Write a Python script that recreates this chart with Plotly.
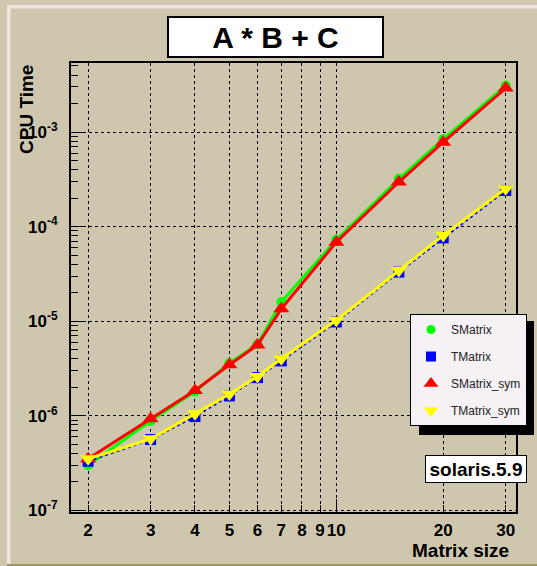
import plotly.graph_objects as go

# ---------------- data ----------------
sizes = [2, 3, 4, 5, 6, 7, 10, 15, 20, 30]
smatrix = [3.0e-7, 8.8e-7, 1.8e-6, 3.6e-6, 5.7e-6, 1.59e-5, 7.26e-5, 3.2e-4, 8.4e-4, 3.1e-3]
tmatrix = [3.3e-7, 5.6e-7, 9.8e-7, 1.62e-6, 2.53e-6, 3.8e-6, 9.8e-6, 3.3e-5, 7.6e-5, 2.41e-4]
smatrix_sym = [3.5e-7, 9.3e-7, 1.85e-6, 3.46e-6, 5.6e-6, 1.35e-5, 6.85e-5, 2.96e-4, 7.8e-4, 2.92e-3]
tmatrix_sym = [3.5e-7, 5.7e-7, 1.05e-6, 1.7e-6, 2.6e-6, 4.0e-6, 1.02e-5, 3.43e-5, 8.07e-5, 2.52e-4]

x_tickvals = [2, 3, 4, 5, 6, 7, 8, 9, 10, 20, 30]
x_ticktext = ["2", "3", "4", "5", "6", "7", "8", "9", "10", "20", "30"]
y_tickvals = [1e-7, 1e-6, 1e-5, 1e-4, 1e-3]
y_ticktext = ["10<sup>-7</sup>", "10<sup>-6</sup>", "10<sup>-5</sup>", "10<sup>-4</sup>", "10<sup>-3</sup>"]
y_minor = [k * 10.0 ** e for e in range(-7, -2) for k in range(2, 10) if k * 10.0 ** e < 5.4e-3]

title_text = "A * B + C"
x_title = "Matrix size"
y_title = "CPU Time"
platform = "solaris.5.9"

# ---------------- layout helpers ----------------
W, H = 537, 566
L, R, T, B = 71, 516, 63, 512
PW, PH = R - L, B - T


def px(x):
    return (x - L) / PW


def py(y):
    return (B - y) / PH


BG = "#CEC7AE"
FONT = "Liberation Sans, Arial, Helvetica, sans-serif"

fig = go.Figure()

series = [
    ("SMatrix", smatrix, "#00FF00", "circle", 10, 3, "solid"),
    ("TMatrix", tmatrix, "#0000FF", "square", 11, 2, "dot"),
    ("SMatrix_sym", smatrix_sym, "#FF0000", "triangle-up", 14, 3, "solid"),
    ("TMatrix_sym", tmatrix_sym, "#FFFF00", "triangle-down", 14, 3, "solid"),
]

for name, vals, col, sym, msize, lw, dash in series:
    fig.add_trace(go.Scatter(
        x=sizes, y=vals, mode="lines+markers", showlegend=False,
        line=dict(color=col, width=lw, dash=dash),
        marker=dict(symbol=sym, size=msize, color=col, line=dict(width=0)),
        xaxis="x2" if name == "TMatrix_sym" else "x",
    ))

for name, vals, col, sym, msize, lw, dash in series:
    fig.add_trace(go.Scatter(
        x=[None], y=[None], mode="markers", name=name, legendgroup=name,
        marker=dict(symbol=sym, size=msize - 1, color=col, line=dict(width=0)),
    ))

xrange = [0.2529, 1.506]
yrange = [-7.018, -2.27]

fig.update_layout(
    width=W, height=H,
    margin=dict(l=L, r=W - R, t=T, b=H - B, pad=0, autoexpand=False),
    paper_bgcolor=BG, plot_bgcolor=BG,
    font=dict(family=FONT, color="black"),
    xaxis=dict(
        type="log", range=xrange, tickmode="array", tickvals=x_tickvals, ticktext=x_ticktext,
        ticks="inside", ticklen=7, tickwidth=1, tickcolor="black", tickangle=0,
        showgrid=True, gridcolor="black", griddash="dot", gridwidth=1,
        showline=True, linecolor="black", linewidth=2, mirror=True, zeroline=False,
        tickfont=dict(size=17, weight="bold", color="black"), ticklabelstandoff=2,
    ),
    xaxis2=dict(
        type="log", range=xrange, overlaying="x", anchor="y", side="bottom",
        tickmode="array", tickvals=[10], ticks="inside", ticklen=13, tickcolor="black",
        showticklabels=False, showgrid=False, showline=False, zeroline=False,
    ),
    yaxis=dict(
        type="log", range=yrange, tickmode="array", tickvals=y_tickvals, ticktext=y_ticktext,
        ticks="inside", ticklen=15, tickwidth=1, tickcolor="black",
        showgrid=True, gridcolor="black", griddash="dot", gridwidth=1,
        showline=True, linecolor="black", linewidth=2, mirror=True, zeroline=False,
        tickfont=dict(size=17, weight="bold", color="black"), ticklabelstandoff=8,
        minor=dict(tickmode="array", tickvals=y_minor, ticks="inside", ticklen=7,
                   tickcolor="black", showgrid=False),
    ),
    showlegend=True,
    legend=dict(
        x=px(527), y=py(314), xanchor="right", yanchor="top",
        bgcolor="#F5F1F5", bordercolor="black", borderwidth=1,
        font=dict(size=12, color="#222222", family=FONT),
        itemwidth=30, tracegroupgap=8,
    ),
)

shapes = [
    # canvas bevel
    dict(type="rect", xref="paper", yref="paper", x0=px(7), x1=px(10.5), y0=py(566), y1=py(5),
         fillcolor="#EEE4E0", line=dict(width=0), layer="below"),
    dict(type="rect", xref="paper", yref="paper", x0=px(7), x1=px(537), y0=py(8.5), y1=py(5),
         fillcolor="#EEE4E0", line=dict(width=0), layer="below"),
    dict(type="rect", xref="paper", yref="paper", x0=px(7), x1=px(537), y0=py(566), y1=py(564),
         fillcolor="#9E9868", line=dict(width=0), layer="below"),
    # legend shadow
    dict(type="rect", xref="paper", yref="paper", x0=px(419), x1=px(534), y0=py(435), y1=py(321),
         fillcolor="black", line=dict(width=0), layer="above"),
]
fig.update_layout(shapes=shapes)

fig.add_annotation(
    text="<b>%s</b>" % title_text, x=px(275), y=py(36.75), xref="paper", yref="paper",
    xanchor="center", yanchor="middle", showarrow=False,
    font=dict(size=30, color="black", family=FONT),
    bgcolor="white", bordercolor="black", borderwidth=2, borderpad=0, width=213, height=38,
)
fig.add_annotation(
    text="<b>%s</b>" % platform, x=px(476), y=py(469), xref="paper", yref="paper",
    xanchor="center", yanchor="middle", showarrow=False,
    font=dict(size=19, color="black", family=FONT),
    bgcolor="white", bordercolor="black", borderwidth=1, borderpad=0, width=100, height=26,
)
fig.add_annotation(
    text="<b>%s</b>" % y_title, x=px(26), y=py(110), xref="paper", yref="paper",
    xanchor="center", yanchor="middle", showarrow=False, textangle=-90,
    font=dict(size=19, color="black", family=FONT),
)
fig.add_annotation(
    text="<b>%s</b>" % x_title, x=px(460), y=py(550), xref="paper", yref="paper",
    xanchor="center", yanchor="middle", showarrow=False,
    font=dict(size=19, color="black", family=FONT),
)

fig.write_html("out.html")
